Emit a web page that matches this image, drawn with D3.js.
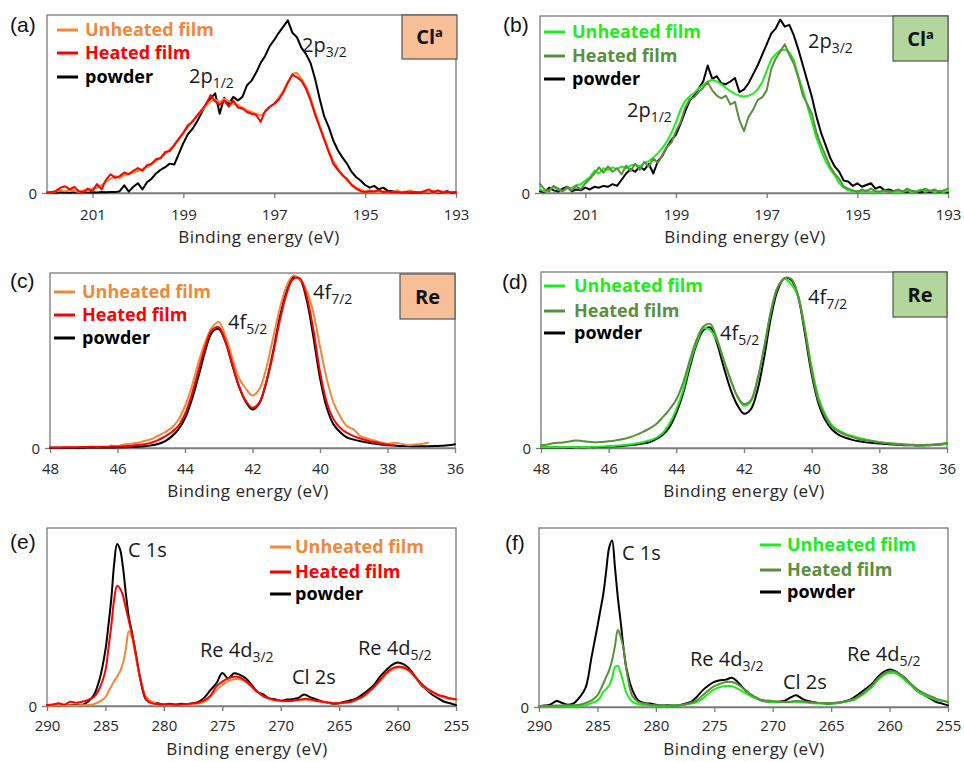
<!DOCTYPE html>
<html>
<head>
<meta charset="utf-8">
<script src="https://cdn.jsdelivr.net/npm/d3@7"></script>
<style>
  html, body { margin: 0; padding: 0; background: #fff; }
  svg { display: block; }
</style>
</head>
<body>
<svg id="fig" width="964" height="762"></svg>
<script>
// ---------- Cl 2p region (panels a, b) ----------
const clEnergy = [
  202.0,201.9,201.8,201.7,201.6,201.5,201.4,201.3,201.2,201.1,
  201.0,200.9,200.8,200.7,200.6,200.5,200.4,200.3,200.2,200.1,
  200.0,199.9,199.8,199.7,199.6,199.5,199.4,199.3,199.2,199.1,
  199.0,198.9,198.8,198.7,198.6,198.5,198.4,198.3,198.2,198.1,
  198.0,197.9,197.8,197.7,197.6,197.5,197.4,197.3,197.2,197.1,
  197.0,196.9,196.8,196.7,196.6,196.5,196.4,196.3,196.2,196.1,
  196.0,195.9,195.8,195.7,195.6,195.5,195.4,195.3,195.2,195.1,
  195.0,194.9,194.8,194.7,194.6,194.5,194.4,194.3,194.2,194.1,
  194.0,193.9,193.8,193.7,193.6,193.5,193.4,193.3,193.2,193.1,
  193.0
];
const clTicks = [201, 199, 197, 195, 193];

const clA_powder = [
  0.3,0.3,0.2,0.4,0.3,0.2,0.4,0.3,0.5,0.3,
  0.4,0.3,0.5,0.4,0.6,0.5,1.0,4.3,0.8,3.5,
  5.5,2.0,6.0,8.0,11.0,13.0,14.5,16.5,16.0,22.0,
  28.0,33.0,36.0,40.0,45.0,50.0,53.0,56.0,44.5,53.5,
  50.0,54.0,52.0,54.0,60.5,63.0,67.5,73.0,77.0,82.5,
  86.0,90.0,93.5,97.0,90.0,87.5,81.5,78.0,73.0,64.0,
  53.0,43.0,37.0,29.5,24.0,20.0,16.5,12.0,9.0,7.0,
  4.5,3.0,4.0,2.0,3.0,1.2,1.0,0.6,0.4,0.5,
  0.3,0.4,0.3,0.6,0.3,0.8,0.3,0.4,1.0,0.3,
  0.4
];
const clA_unheated = [
  0.3,0.4,0.8,1.5,1.0,1.8,1.2,0.6,1.5,1.0,
  2.5,3.0,4.5,6.5,8.0,9.5,8.5,10.0,11.0,11.5,
  12.5,13.5,14.5,16.0,18.0,20.0,22.0,24.5,26.5,30.0,
  33.5,37.0,40.5,43.0,46.0,49.0,51.5,52.5,51.0,53.0,
  51.5,50.0,49.5,48.0,46.5,45.5,44.5,43.5,45.5,48.0,
  50.5,53.5,57.5,62.5,67.0,67.5,64.0,60.0,53.5,45.5,
  38.0,31.0,24.0,18.0,14.0,10.5,7.0,5.0,3.0,2.0,
  1.0,1.5,0.8,0.5,1.0,0.5,0.6,1.5,0.5,0.8,
  1.5,0.5,0.4,0.8,0.5,1.0,0.5,0.8,0.4,0.5,
  0.6
];
const clA_heated = [
  0.2,0.5,1.2,3.0,3.8,2.0,3.5,1.0,0.5,2.5,
  1.0,5.0,2.0,7.5,10.5,8.5,9.5,11.5,10.5,12.5,
  14.0,12.5,15.5,16.5,19.0,19.5,23.0,23.5,27.0,30.5,
  34.0,38.0,40.0,43.5,46.5,50.0,55.0,51.5,49.5,52.0,
  48.5,52.0,48.0,47.5,45.5,44.5,44.0,40.0,46.0,48.5,
  50.0,52.5,56.5,62.0,66.5,65.0,63.0,58.5,52.0,44.0,
  37.0,30.0,23.0,16.5,13.0,10.0,8.0,4.5,2.5,1.0,
  0.5,1.0,0.8,1.5,0.5,0.8,0.4,0.5,0.3,0.5,
  0.4,0.6,0.3,1.0,2.0,0.5,1.5,0.4,0.6,0.3,
  0.5
];

const clB_powder = [
  1.0,0.5,3.0,1.5,0.8,2.5,3.5,1.0,2.0,1.5,
  3.0,2.0,3.5,3.0,4.0,3.5,5.0,4.0,7.5,11.0,
  13.5,12.0,15.0,13.0,16.5,11.0,18.0,21.0,26.0,30.0,
  33.0,39.0,46.0,52.0,55.0,59.0,63.0,72.0,64.5,66.0,
  62.0,61.5,63.0,65.0,57.0,58.5,62.0,67.0,72.0,78.0,
  84.0,90.0,93.0,98.0,94.0,95.0,89.0,81.0,72.0,63.0,
  54.0,43.0,34.0,27.0,20.0,15.0,12.0,7.0,6.5,4.0,
  5.5,3.5,4.5,5.5,2.5,3.5,1.5,2.0,1.0,1.5,
  0.8,0.5,1.2,0.6,0.4,1.0,0.5,0.8,0.5,0.6,
  0.4
];
const clB_unheated = [
  2.0,0.8,1.5,3.5,2.0,1.0,2.5,3.0,4.5,5.0,
  7.0,9.0,12.5,11.0,14.0,13.0,14.5,13.5,15.0,14.0,
  15.5,16.0,15.0,17.0,18.0,20.0,22.5,25.5,29.0,34.0,
  40.0,47.0,52.0,54.5,56.5,59.0,61.0,63.0,64.0,63.0,
  61.5,59.5,57.5,56.0,55.0,54.5,55.0,56.0,58.5,62.5,
  69.0,75.5,78.5,80.5,81.0,79.5,75.0,66.0,58.0,49.0,
  40.0,31.0,24.0,18.0,13.5,10.0,5.5,3.0,1.5,0.8,
  1.2,0.5,1.5,0.6,1.0,0.5,1.2,0.8,0.4,1.0,
  0.5,1.5,0.6,1.0,2.0,0.8,1.5,0.5,1.0,0.6,
  1.2
];
const clB_heated = [
  5.0,2.0,1.0,4.0,2.5,1.0,3.5,1.5,4.0,2.0,
  5.5,8.0,11.0,14.5,11.5,15.0,12.0,14.0,10.5,15.5,
  12.5,16.5,13.0,17.5,15.0,19.5,17.0,21.5,26.0,28.5,
  35.0,40.0,48.0,53.0,54.0,57.0,59.5,62.5,58.0,55.0,
  53.5,55.0,50.0,51.5,41.0,35.0,43.0,47.0,52.5,54.0,
  58.0,70.0,76.0,80.0,84.0,78.0,73.0,65.0,55.0,50.0,
  44.5,34.0,27.0,21.0,15.0,11.0,8.0,3.5,2.5,1.5,
  0.5,2.0,1.0,2.5,1.0,0.8,1.5,0.6,1.0,2.0,
  0.8,2.5,1.2,0.5,1.5,2.5,1.0,2.0,0.8,1.5,
  2.5
];

// ---------- Re 4f region (panels c, d) ----------
const reEnergy = [
  48.0,47.8,47.6,47.4,47.2,47.0,46.8,46.6,46.4,46.2,
  46.0,45.8,45.6,45.4,45.2,45.0,44.8,44.6,44.4,44.2,
  44.0,43.8,43.6,43.4,43.2,43.0,42.8,42.6,42.4,42.2,
  42.0,41.8,41.6,41.4,41.2,41.0,40.8,40.6,40.4,40.2,
  40.0,39.8,39.6,39.4,39.2,39.0,38.8,38.6,38.4,38.2,
  38.0,37.8,37.6,37.4,37.2,37.0,36.8,36.6,36.4,36.2,
  36.0
];
const reTicks = [48, 46, 44, 42, 40, 38, 36];

const reC_powder = [
  0.2,0.2,0.2,0.2,0.2,0.2,0.3,0.3,0.3,0.3,
  0.4,0.4,0.5,0.7,1.0,1.5,2.3,3.8,6.5,10.5,
  17.0,27.5,41.0,55.5,66.0,68.0,60.5,47.5,35.0,26.5,
  22.0,25.5,37.0,54.0,74.0,89.0,97.5,96.5,85.0,64.0,
  40.0,23.0,13.5,9.0,6.0,4.8,3.8,3.2,2.5,2.0,
  1.6,1.4,1.2,1.1,1.0,1.0,1.0,1.1,1.3,1.6,
  2.2
];
const reC_unheated = [
  null,null,null,null,null,null,null,null,null,1.5,
  1.0,2.0,2.5,3.0,4.0,5.0,7.0,9.0,11.5,16.0,
  24.0,35.0,49.0,60.5,69.0,72.0,64.0,51.5,40.0,34.0,
  30.0,33.5,45.0,62.0,79.0,92.0,98.5,96.5,90.0,77.5,
  58.0,39.5,26.0,18.0,12.5,10.5,6.8,5.4,4.4,3.3,
  2.5,3.0,2.5,1.7,2.0,2.3,3.0,null,null,null,
  null
];
const reC_heated = [
  0.3,0.3,0.4,0.4,0.5,0.6,0.7,0.6,0.7,0.8,
  0.9,1.0,1.3,1.7,2.2,3.0,4.5,6.5,9.0,12.5,
  19.5,30.5,44.5,58.0,67.5,69.0,61.0,48.0,35.5,27.0,
  23.0,26.0,37.0,53.0,72.0,87.5,96.5,97.0,87.0,68.0,
  43.5,26.0,16.5,11.5,8.6,6.8,5.4,4.3,3.4,2.6,
  2.0,1.5,null,null,null,null,null,null,null,null,
  null
];

const reD_powder = [
  0.3,0.3,0.3,0.3,0.3,0.4,0.4,0.5,0.5,0.6,
  0.8,1.0,1.2,1.5,2.0,2.5,3.2,5.0,7.5,12.0,
  20.0,31.0,46.0,59.0,67.0,68.5,59.5,46.0,33.5,24.5,
  19.5,22.0,33.0,52.0,74.5,90.0,96.5,95.5,86.0,65.0,
  42.0,25.5,16.0,10.5,7.5,5.8,4.6,3.8,3.2,2.8,
  2.5,2.3,2.0,1.8,1.6,1.5,1.4,1.5,1.7,2.0,
  2.6
];
const reD_unheated = [
  0.4,0.4,0.4,0.4,0.5,0.5,0.5,0.6,0.7,0.8,
  1.0,1.3,1.6,2.0,2.6,3.3,4.3,5.8,8.5,14.0,
  22.0,33.0,48.0,60.0,68.0,67.0,61.0,50.0,39.0,29.5,
  24.0,26.5,39.0,57.5,78.0,91.5,96.0,93.0,86.0,68.0,
  46.0,29.0,19.0,13.0,10.0,8.0,6.8,5.7,4.8,4.0,
  3.4,2.8,2.4,2.1,1.9,1.7,1.6,1.6,1.8,2.0,
  2.4
];
const reD_heated = [
  1.5,2.0,2.8,3.0,3.5,4.2,4.0,3.6,3.2,3.4,
  3.8,4.3,5.0,6.0,7.3,9.0,11.0,13.5,17.5,22.0,
  27.5,37.0,50.0,61.5,69.0,70.5,62.0,50.0,39.0,29.5,
  25.0,27.0,39.0,57.5,78.0,91.5,96.5,96.0,86.5,67.0,
  44.0,27.0,18.0,12.0,9.3,7.5,6.2,5.0,4.3,3.8,
  3.3,2.8,2.5,2.3,2.0,1.8,1.7,1.8,2.0,2.3,
  2.8
];

// ---------- Survey region C 1s / Re 4d / Cl 2s (panels e, f) ----------
const svEnergy = [
  290,289.5,289,288.5,288,287.5,287,286.5,286,285.5,
  285,284.75,284.5,284.25,284,283.75,283.5,283.25,283,282.75,
  282.5,282,281.5,281,280.5,280,279.5,279,278.5,278,
  277.5,277,276.5,276,275.5,275,274.5,274,273.5,273,
  272.5,272,271.5,271,270.5,270,269.5,269,268.5,268,
  267.5,267,266.5,266,265.5,265,264.5,264,263.5,263,
  262.5,262,261.5,261,260.5,260,259.5,259,258.5,258,
  257.5,257,256.5,256,255.5,255
];
const svTicks = [290, 285, 280, 275, 270, 265, 260, 255];

const svE_powder = [
  0.3,0.4,0.3,0.5,0.4,0.6,0.5,2.4,6.0,15.0,
  31.5,45.0,60.0,80.0,91.0,88.0,78.0,63.0,50.0,42.0,
  33.0,14.6,3.4,2.0,1.5,0.8,1.2,0.8,1.3,0.9,
  1.5,2.4,5.0,9.0,12.8,18.5,15.5,18.4,17.5,15.6,
  12.0,8.0,6.5,4.3,3.8,3.0,3.6,3.8,4.5,6.5,
  5.0,3.8,2.6,1.9,1.3,1.6,2.4,3.2,4.3,6.5,
  9.0,12.0,16.5,20.0,23.0,24.5,23.5,21.0,16.5,12.0,
  9.0,6.2,4.3,2.4,1.5,0.5
];
const svE_unheated = [
  0.2,0.2,0.3,0.3,0.3,0.3,0.4,0.5,1.0,2.4,
  5.0,8.0,11.0,14.0,16.5,19.5,24.0,32.0,42.0,39.0,
  31.0,15.0,5.0,2.4,1.0,0.5,0.5,0.5,0.6,0.7,
  1.0,1.5,2.4,5.3,9.0,11.8,14.0,15.0,15.0,13.7,
  11.0,8.0,5.6,4.0,3.2,2.8,2.6,2.8,3.2,3.6,
  3.4,2.8,2.3,1.8,1.5,1.4,1.8,2.3,3.5,5.0,
  7.5,10.5,14.0,17.5,20.5,21.5,21.3,19.5,16.0,12.5,
  9.5,7.5,5.8,4.8,4.0,3.5
];
const svE_heated = [
  0.5,0.8,1.5,0.8,2.4,1.8,2.4,3.4,5.0,10.0,
  20.0,32.0,45.0,60.0,67.5,66.0,62.0,55.0,48.0,41.0,
  33.0,15.0,3.5,1.5,1.0,0.8,1.0,0.7,0.9,1.1,
  1.5,2.0,3.4,6.0,11.0,13.7,15.6,16.5,16.0,14.0,
  11.0,8.0,5.6,4.3,3.4,3.0,2.8,3.0,3.5,4.0,
  3.8,3.0,2.5,2.0,1.6,1.5,1.9,2.4,3.8,5.3,
  8.0,11.0,14.6,18.4,21.0,22.0,21.8,20.0,16.5,12.8,
  10.0,8.0,6.2,5.3,4.3,3.8
];

const svF_powder = [
  0.4,0.8,1.5,3.4,2.2,1.3,2.2,5.6,11.0,28.0,
  45.0,54.0,63.0,76.0,89.0,93.0,78.0,61.0,47.0,32.0,
  21.0,9.3,3.7,2.2,1.9,1.3,0.8,1.0,0.7,1.0,
  1.9,2.8,5.6,9.3,12.0,14.0,15.0,15.3,16.3,14.0,
  10.3,7.5,5.2,3.7,3.0,2.8,3.0,3.4,5.2,6.5,
  4.7,3.4,2.8,2.2,1.9,1.9,2.2,2.8,3.8,5.6,
  7.9,10.3,13.0,16.8,19.6,21.0,20.0,17.8,15.0,11.2,
  8.4,6.5,4.7,2.8,1.9,0.9
];
const svF_unheated = [
  0.3,0.3,0.3,0.4,0.4,0.4,0.5,0.6,1.0,2.2,
  3.7,5.5,8.4,10.0,12.0,16.0,22.4,23.0,18.7,13.0,
  7.5,2.8,1.5,1.0,0.9,0.7,0.6,0.6,0.7,0.8,
  1.2,1.9,2.8,4.7,7.5,9.9,11.2,11.8,11.6,10.3,
  8.4,6.5,5.0,3.7,3.2,2.8,2.7,2.6,2.8,2.9,
  2.7,2.4,2.1,1.9,1.9,1.9,2.1,2.6,3.2,4.0,
  6.0,8.4,11.2,15.0,17.8,19.0,18.7,16.8,14.0,11.2,
  8.4,6.5,5.2,4.0,3.4,2.8
];
const svF_heated = [
  0.5,0.6,0.7,0.8,0.9,1.0,1.0,1.3,2.2,3.7,
  6.5,9.5,13.0,16.8,20.5,26.0,34.0,43.0,39.0,32.0,
  20.0,6.0,2.8,1.9,1.3,1.0,0.9,0.9,1.0,1.1,
  1.5,2.2,3.7,6.5,9.3,11.6,13.0,14.0,14.0,12.7,
  10.3,7.5,5.6,4.0,3.6,3.4,3.0,2.8,3.0,3.4,
  3.2,2.8,2.5,2.2,2.2,2.2,2.5,2.8,3.6,4.7,
  6.5,9.3,12.0,15.9,18.7,20.0,19.6,17.8,15.0,12.0,
  9.3,7.5,6.0,4.7,3.7,2.8
];

const legendNames = ["Unheated film", "Heated film", "powder"];

// ---------- styling ----------
const COL = {
  orange: "#F0883A", red: "#FF0000", black: "#000000",
  lime: "#1CEE1C", olive: "#5B8E3D",
  peach: "#F6BF98", sage: "#B3D69C",
  frame: "#7A7A7A", text: "#262626"
};
const FONT = "'Open Sans', 'DejaVu Sans', sans-serif";

const svg = d3.select("#fig");

const panels = [
  { tag: "(a)", tagX: 10, tagY: 32,
    frame: { l: 47, r: 456, t: 15, b: 193 }, xDomain: [202, 193], ticks: clTicks, tickY: 220,
    titleX: 259, titleY: 243, curve: d3.curveLinear, energy: clEnergy,
    series: [ { v: clA_powder, c: COL.black }, { v: clA_unheated, c: COL.orange }, { v: clA_heated, c: COL.red } ],
    legend: { x: 57, tx: 85, rows: [30, 53, 77], colors: [COL.orange, COL.red, COL.black] },
    box: { x: 402, y: 15, w: 55, h: 44, fill: COL.peach, main: "Cl", sup: "a" },
    notes: [ { t: "2p", s: "3/2", x: 302, y: 52 }, { t: "2p", s: "1/2", x: 189, y: 83 } ] },
  { tag: "(b)", tagX: 503, tagY: 32,
    frame: { l: 540, r: 948, t: 16, b: 193 }, xDomain: [202, 193], ticks: clTicks, tickY: 220,
    titleX: 745, titleY: 243, curve: d3.curveLinear, energy: clEnergy,
    series: [ { v: clB_powder, c: COL.black }, { v: clB_unheated, c: COL.lime }, { v: clB_heated, c: COL.olive } ],
    legend: { x: 544, tx: 572, rows: [32, 56, 79], colors: [COL.lime, COL.olive, COL.black] },
    box: { x: 893, y: 16, w: 55, h: 45, fill: COL.sage, main: "Cl", sup: "a" },
    notes: [ { t: "2p", s: "3/2", x: 808, y: 48 }, { t: "2p", s: "1/2", x: 627, y: 117 } ] },
  { tag: "(c)", tagX: 10, tagY: 288,
    frame: { l: 50, r: 455, t: 273, b: 448 }, xDomain: [48, 36], ticks: reTicks, tickY: 474,
    titleX: 248, titleY: 497, curve: d3.curveCatmullRom, energy: reEnergy,
    series: [ { v: reC_powder, c: COL.black }, { v: reC_unheated, c: COL.orange }, { v: reC_heated, c: COL.red } ],
    legend: { x: 54, tx: 82, rows: [292, 315, 338], colors: [COL.orange, COL.red, COL.black] },
    box: { x: 400, y: 274, w: 55, h: 45, fill: COL.peach, main: "Re" },
    notes: [ { t: "4f", s: "7/2", x: 313, y: 299 }, { t: "4f", s: "5/2", x: 228, y: 329 } ] },
  { tag: "(d)", tagX: 502, tagY: 289,
    frame: { l: 541, r: 947, t: 272, b: 448 }, xDomain: [48, 36], ticks: reTicks, tickY: 474,
    titleX: 744, titleY: 497, curve: d3.curveCatmullRom, energy: reEnergy,
    series: [ { v: reD_powder, c: COL.black }, { v: reD_unheated, c: COL.lime }, { v: reD_heated, c: COL.olive } ],
    legend: { x: 544, tx: 574, rows: [286, 311, 333], colors: [COL.lime, COL.olive, COL.black] },
    box: { x: 893, y: 272, w: 54, h: 45, fill: COL.sage, main: "Re" },
    notes: [ { t: "4f", s: "7/2", x: 808, y: 304 }, { t: "4f", s: "5/2", x: 720, y: 340 } ] },
  { tag: "(e)", tagX: 10, tagY: 549,
    frame: { l: 47, r: 456, t: 528, b: 706 }, xDomain: [290, 255], ticks: svTicks, tickY: 731,
    titleX: 247, titleY: 755, curve: d3.curveCatmullRom, energy: svEnergy,
    series: [ { v: svE_powder, c: COL.black }, { v: svE_unheated, c: COL.orange }, { v: svE_heated, c: COL.red } ],
    legend: { x: 270, tx: 295, rows: [547, 572, 594], colors: [COL.orange, COL.red, COL.black] },
    box: null,
    notes: [ { t: "C 1s", x: 128, y: 557 }, { t: "Re 4d", s: "3/2", x: 200, y: 657 },
             { t: "Cl 2s", x: 292, y: 684 }, { t: "Re 4d", s: "5/2", x: 358, y: 655 } ] },
  { tag: "(f)", tagX: 505, tagY: 550,
    frame: { l: 539, r: 948, t: 528, b: 707 }, xDomain: [290, 255], ticks: svTicks, tickY: 731,
    titleX: 744, titleY: 755, curve: d3.curveCatmullRom, energy: svEnergy,
    series: [ { v: svF_powder, c: COL.black }, { v: svF_unheated, c: COL.lime }, { v: svF_heated, c: COL.olive } ],
    legend: { x: 760, tx: 787, rows: [545, 570, 592], colors: [COL.lime, COL.olive, COL.black] },
    box: null,
    notes: [ { t: "C 1s", x: 622, y: 560 }, { t: "Re 4d", s: "3/2", x: 690, y: 666 },
             { t: "Cl 2s", x: 783, y: 689 }, { t: "Re 4d", s: "5/2", x: 847, y: 661 } ] }
];

function drawPanel(p) {
  const g = svg.append("g");
  const f = p.frame;
  const x = d3.scaleLinear().domain(p.xDomain).range([f.l, f.r]);
  const y = d3.scaleLinear().domain([0, 100]).range([f.b, f.t]);

  // plot frame
  g.append("rect")
    .attr("x", f.l).attr("y", f.t)
    .attr("width", f.r - f.l).attr("height", f.b - f.t)
    .attr("fill", "none").attr("stroke", COL.frame).attr("stroke-width", 1.3);

  // x axis
  const ax = g.append("g")
    .attr("transform", `translate(0,${f.b})`)
    .call(d3.axisBottom(x).tickValues(p.ticks).tickSize(5).tickSizeOuter(0).tickFormat(d3.format("d")));
  ax.attr("font-family", FONT).attr("font-size", 15);
  ax.select(".domain").attr("stroke", COL.frame).attr("stroke-width", 1.3);
  ax.selectAll(".tick line").attr("stroke", COL.frame).attr("stroke-width", 1.3);
  ax.selectAll(".tick text").attr("fill", COL.text).attr("y", p.tickY - f.b).attr("dy", 0);

  // y axis: only the zero level is labelled
  const ay = g.append("g")
    .attr("transform", `translate(${f.l},0)`)
    .call(d3.axisLeft(y).tickValues([0]).tickSize(5).tickPadding(5));
  ay.attr("font-family", FONT).attr("font-size", 15);
  ay.select(".domain").remove();
  ay.selectAll(".tick line").attr("stroke", COL.frame).attr("stroke-width", 1.3);
  ay.selectAll(".tick text").attr("fill", COL.text).attr("dy", "0.36em");

  // spectra
  const line = d3.line()
    .defined(d => d[1] != null)
    .x(d => x(d[0]))
    .y(d => y(d[1]))
    .curve(p.curve);
  p.series.forEach(s => {
    const pts = p.energy.map((e, i) => [e, s.v[i]]);
    g.append("path").datum(pts)
      .attr("d", line)
      .attr("fill", "none")
      .attr("stroke", s.c)
      .attr("stroke-width", 2)
      .attr("stroke-linejoin", "round")
      .attr("stroke-linecap", "round");
  });

  // x-axis title
  g.append("text")
    .attr("x", p.titleX).attr("y", p.titleY)
    .attr("text-anchor", "middle")
    .attr("font-family", FONT).attr("font-size", 17)
    .attr("letter-spacing", 0.45)
    .attr("fill", COL.text)
    .text("Binding energy (eV)");

  // panel letter
  g.append("text")
    .attr("x", p.tagX).attr("y", p.tagY)
    .attr("font-family", "'Liberation Sans', Arial, sans-serif").attr("font-size", 21)
    .attr("fill", "#111")
    .text(p.tag);

  // peak labels
  p.notes.forEach(n => {
    const t = g.append("text")
      .attr("x", n.x).attr("y", n.y)
      .attr("font-family", FONT).attr("font-size", 20)
      .attr("fill", "#1a1a1a")
      .text(n.t);
    if (n.s) {
      t.append("tspan").attr("dy", 5).attr("font-size", 14).text(n.s);
    }
  });

  // legend
  const lg = p.legend;
  legendNames.forEach((name, i) => {
    const yy = lg.rows[i];
    g.append("line")
      .attr("x1", lg.x).attr("x2", lg.x + 21)
      .attr("y1", yy).attr("y2", yy)
      .attr("stroke", lg.colors[i]).attr("stroke-width", 3);
    g.append("text")
      .attr("x", lg.tx).attr("y", yy + 6)
      .attr("font-family", FONT).attr("font-size", 18).attr("font-weight", 700)
      .attr("fill", lg.colors[i])
      .text(name);
  });

  // element tag box
  if (p.box) {
    const b = p.box;
    g.append("rect")
      .attr("x", b.x).attr("y", b.y).attr("width", b.w).attr("height", b.h)
      .attr("fill", b.fill).attr("stroke", "#555").attr("stroke-width", 1.2);
    const t = g.append("text")
      .attr("x", b.x + b.w / 2).attr("y", b.y + b.h / 2 + 7)
      .attr("text-anchor", "middle")
      .attr("font-family", FONT).attr("font-size", 20).attr("font-weight", 700)
      .attr("fill", "#111")
      .text(b.main);
    if (b.sup) {
      t.append("tspan").attr("dy", -7).attr("font-size", 13).text(b.sup);
    }
  }
}

panels.forEach(drawPanel);
</script>
</body>
</html>
